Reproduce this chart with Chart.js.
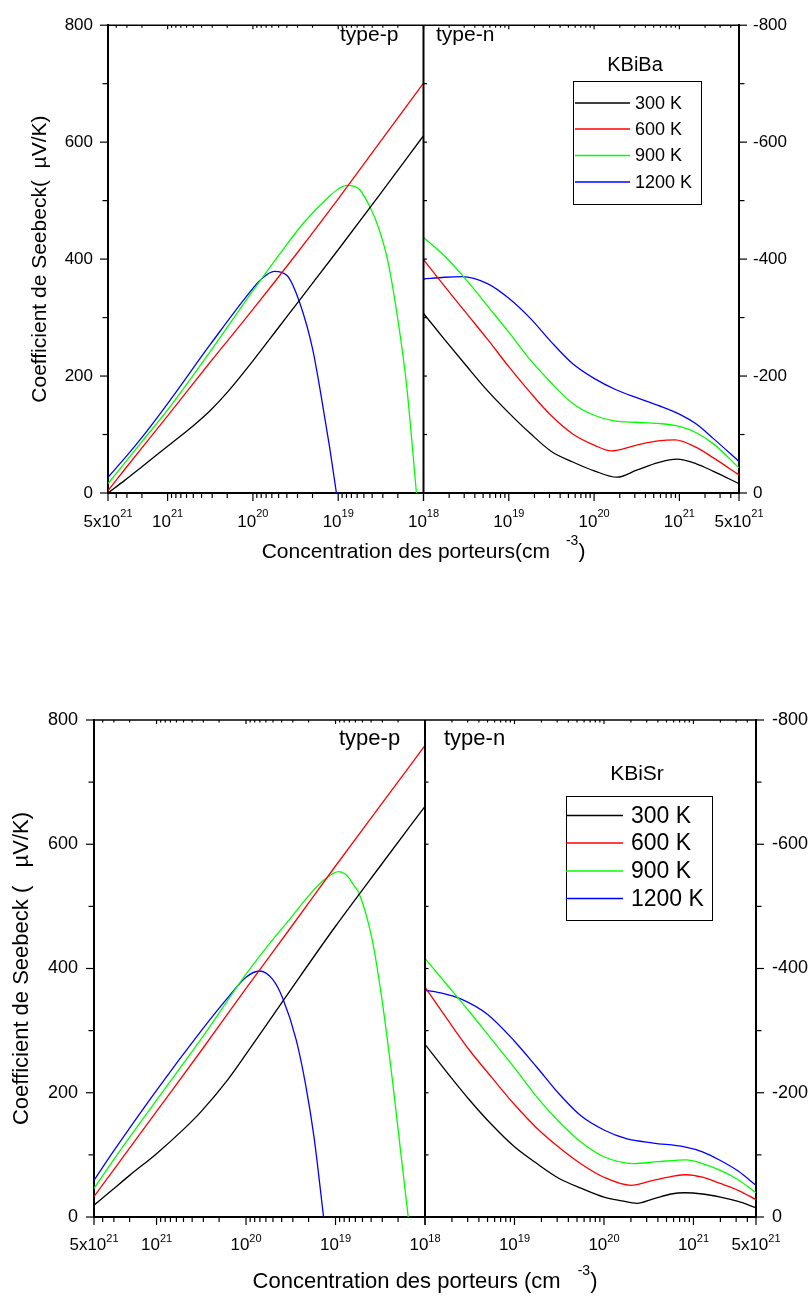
<!DOCTYPE html>
<html>
<head>
<meta charset="utf-8">
<script src="https://cdn.jsdelivr.net/npm/chart.js@4.4.1/dist/chart.umd.min.js"></script>
<style>
html,body{margin:0;padding:0;background:#fff;}
#wrap{position:relative;width:811px;height:1298px;overflow:hidden;}
canvas{position:absolute;left:0;}
</style>
</head>
<body>
<div id="wrap">
<canvas id="c1" width="811" height="649" style="top:0;width:811px;height:649px"></canvas>
<canvas id="c2" width="811" height="649" style="top:649px;width:811px;height:649px"></canvas>
</div>
<script>
// ---------- categories / ticks ----------
const seriesLabels = ['300 K', '600 K', '900 K', '1200 K'];
const seriesColors = ['#000000', '#ff0000', '#00ff00', '#0000ff'];
const xTickValues = [1e18, 1e19, 1e20, 1e21, 5e21];
const xTickBase = ['10', '10', '10', '10', '5x10'];
const xTickExp = ['18', '19', '20', '21', '21'];
const yTickValuesP = [0, 200, 400, 600, 800];
const yTickLabelsP = ['0', '200', '400', '600', '800'];
const yTickValuesN = [0, -200, -400, -600, -800];
const yTickLabelsN = ['0', '-200', '-400', '-600', '-800'];

// ---------- KBiBa : [concentration (cm^-3), Seebeck (µV/K)] ----------
const baP300 = [[5e21,0],[3.16e21,22],[2e21,45],[1e21,80],[5e20,115],[3.16e20,141],[2e20,172],[1e20,226],[5e19,283],[3.16e19,321],[1e19,416],[3.16e18,513],[1e18,611]];
const baP600 = [[5e21,4],[3.16e21,41],[1e21,132],[3.16e20,224],[1e20,314],[3.16e19,407],[1e19,503],[3.16e18,602],[1e18,701]];
const baP900 = [[5e21,16],[3.16e21,52],[2e21,88],[1e21,142],[3.16e20,242],[1e20,346],[7.94e19,366],[5.01e19,406],[2.51e19,463],[1.26e19,508],[1e19,520],[7.94e18,526],[6.61e18,525],[5.62e18,519],[4.27e18,490],[3.39e18,455],[2.63e18,398],[2e18,297],[1.58e18,185],[1.21e18,0]];
const baP1200 = [[5e21,27],[3.16e21,60],[2e21,95],[1e21,153],[3.16e20,254],[1e20,350],[7.94e19,366],[5.62e19,379],[3.98e19,372],[2.82e19,325],[2e19,247],[1.58e19,165],[1.26e19,78],[1.05e19,0]];

const baN300 = [[1e18,-307],[1.78e18,-262],[3.16e18,-218],[5.62e18,-175],[1e19,-137],[1.78e19,-102],[3.16e19,-71],[5.62e19,-53],[1e20,-38],[1.86e20,-27],[3.16e20,-39],[5.62e20,-52],[9.33e20,-58],[1.58e21,-50],[2.51e21,-37],[5e21,-16]];
const baN600 = [[1e18,-399],[1.78e18,-353],[3.16e18,-308],[5.62e18,-263],[1e19,-216],[1.78e19,-172],[3.16e19,-132],[5.62e19,-101],[1e20,-82],[1.58e20,-72],[3.16e20,-82],[5.62e20,-89],[8.91e20,-91],[1.58e21,-78],[2.51e21,-60],[5e21,-31]];
const baN900 = [[1e18,-437],[1.78e18,-405],[3.16e18,-365],[5.62e18,-320],[1e19,-275],[1.78e19,-228],[3.16e19,-188],[5.62e19,-153],[1e20,-133],[1.78e20,-123],[3.16e20,-121],[5.62e20,-119],[1e21,-114],[1.58e21,-103],[2.51e21,-84],[5e21,-43]];
const baN1200 = [[1e18,-366],[1.78e18,-369],[2.82e18,-370],[5.62e18,-358],[1e19,-333],[1.78e19,-299],[3.16e19,-258],[5.62e19,-221],[1e20,-196],[1.78e20,-177],[3.16e20,-163],[5.62e20,-150],[1e21,-135],[1.58e21,-118],[2.51e21,-93],[5e21,-54]];

// ---------- KBiSr ----------
const srP300 = [[5e21,19],[3.16e21,43],[2e21,67],[1e21,102],[5e20,141],[3.16e20,170],[1.58e20,222],[1e20,262],[3.16e19,366],[1e19,468],[3.16e18,565],[1e18,661]];
const srP600 = [[5e21,33],[3.16e21,72],[1e21,170],[3.16e20,268],[1e20,368],[3.16e19,466],[1e19,565],[3.16e18,662],[1e18,759]];
const srP900 = [[5e21,46],[3.16e21,88],[1e21,188],[3.16e20,287],[1e20,391],[5.01e19,447],[3.31e19,478],[2e19,517],[1.41e19,540],[1.12e19,551],[9.33e18,556],[7.94e18,553],[7.08e18,546],[6.31e18,535],[5.46e18,521],[3.89e18,446],[3.02e18,349],[2.29e18,215],[1.86e18,102],[1.54e18,0]];
const srP1200 = [[5e21,59],[3.16e21,102],[1e21,204],[3.16e20,300],[1.58e20,354],[1e20,386],[7.08e19,396],[5.01e19,382],[3.89e19,352],[2.75e19,285],[2.14e19,210],[1.74e19,129],[1.36e19,0]];

const srN300 = [[1e18,-278],[1.78e18,-232],[3.16e18,-188],[5.62e18,-148],[1e19,-113],[1.78e19,-86],[3.16e19,-62],[5.62e19,-46],[1e20,-32],[1.58e20,-26],[2.34e20,-22],[3.55e20,-29],[5.62e20,-37],[7.94e20,-39],[1.26e21,-37],[2e21,-32],[3.16e21,-25],[5e21,-15]];
const srN600 = [[1e18,-370],[1.78e18,-318],[3.16e18,-268],[5.62e18,-224],[1e19,-181],[1.78e19,-143],[3.16e19,-112],[5.62e19,-85],[1e20,-64],[2e20,-51],[3.55e20,-59],[5.62e20,-65],[8.32e20,-68],[1.26e21,-64],[2e21,-54],[3.16e21,-43],[5e21,-28]];
const srN900 = [[1e18,-416],[1.78e18,-373],[3.16e18,-330],[5.62e18,-285],[1e19,-240],[1.78e19,-193],[3.16e19,-153],[5.62e19,-120],[1e20,-97],[2.14e20,-86],[3.98e20,-89],[8.32e20,-92],[1.26e21,-86],[2e21,-75],[3.16e21,-60],[5e21,-39]];
const srN1200 = [[1e18,-365],[1.58e18,-360],[2.51e18,-351],[5.01e18,-326],[1e19,-283],[1.78e19,-241],[3.16e19,-198],[5.62e19,-162],[1e20,-140],[1.78e20,-126],[3.55e20,-119],[7.94e20,-113],[1.26e21,-105],[2e21,-91],[3.16e21,-74],[5e21,-51]];

const FAMILY = '"Liberation Sans", Arial, Helvetica, sans-serif';
const X_MIN = 1e18, X_MAX = 5e21;

function ds(pairs, i, panel) {
  return {
    label: seriesLabels[i],
    data: pairs.map(p => ({x: p[0], y: p[1]})),
    borderColor: seriesColors[i],
    backgroundColor: seriesColors[i],
    borderWidth: 1.3,
    pointRadius: 0,
    fill: false,
    cubicInterpolationMode: 'monotone',
    xAxisID: 'x' + panel,
    yAxisID: 'y' + panel
  };
}

function minorValues() {
  const out = [];
  for (let d = 18; d <= 21; d++) {
    for (let k = 1; k <= 9; k++) {
      const v = k * Math.pow(10, d);
      if (v >= X_MIN * 0.999 && v <= X_MAX * 1.001) out.push({v, major: k === 1 || (d === 21 && k === 5)});
    }
  }
  return out;
}

const decor = {
  id: 'decor',
  afterDraw(chart, args, o) {
    const ctx = chart.ctx, ca = chart.chartArea;
    const sx = chart.scales;
    const line = (x1, y1, x2, y2) => { ctx.beginPath(); ctx.moveTo(x1, y1); ctx.lineTo(x2, y2); ctx.stroke(); };
    ctx.save();
    ctx.strokeStyle = '#000';
    ctx.fillStyle = '#000';
    // frame top and divider
    ctx.lineWidth = 1.5;
    line(ca.left, ca.top, ca.right, ca.top);
    const xd = sx.xP.getPixelForValue(X_MIN);
    ctx.lineWidth = 2;
    line(xd, ca.top, xd, ca.bottom);
    // x ticks
    ctx.lineWidth = 1.2;
    const mv = minorValues();
    [sx.xP, sx.xN].forEach(s => {
      mv.forEach(t => {
        const px = s.getPixelForValue(t.v);
        line(px, ca.bottom, px, ca.bottom + (t.major ? 8 : 5));
        line(px, ca.top, px, ca.top + (t.major ? 4 : 2.5));
      });
    });
    // y ticks
    for (let v = 0; v <= 800; v += 100) {
      const major = v % 200 === 0;
      const py = sx.yP.getPixelForValue(v);
      line(ca.left - (major ? 8 : 5.5), py, ca.left, py);
      const pn = sx.yN.getPixelForValue(-v);
      line(ca.right, pn, ca.right + (major ? 8 : 5.5), pn);
      if (v > 0 && v < 800) line(xd, py, xd + 3.5, py);
    }
    // x tick labels with superscript exponents
    ctx.textBaseline = 'alphabetic';
    ctx.textAlign = 'left';
    const baseF = o.xlFont + 'px ' + FAMILY, expF = o.xlSupFont + 'px ' + FAMILY;
    [['xP', 1], ['xN', 0]].forEach(([id, start]) => {
      const s = sx[id];
      for (let i = start; i < xTickValues.length; i++) {
        const px = s.getPixelForValue(xTickValues[i]);
        ctx.font = baseF; const wb = ctx.measureText(xTickBase[i]).width;
        ctx.font = expF; const we = ctx.measureText(xTickExp[i]).width;
        const x0 = px - (wb + we) / 2;
        ctx.font = baseF; ctx.fillText(xTickBase[i], x0, ca.bottom + o.xlBase);
        ctx.font = expF; ctx.fillText(xTickExp[i], x0 + wb, ca.bottom + o.xlSupBase);
      }
    });
    // type labels
    ctx.font = o.typeFont + 'px ' + FAMILY;
    ctx.fillText('type-p', o.typeP[0], o.typeP[1]);
    ctx.fillText('type-n', o.typeN[0], o.typeN[1]);
    // legend
    ctx.textAlign = 'center';
    ctx.font = o.legTitleFont + 'px ' + FAMILY;
    ctx.fillText(o.legTitle, o.legTitlePos[0], o.legTitlePos[1]);
    ctx.lineWidth = 1;
    ctx.strokeRect(o.legBox[0] + 0.5, o.legBox[1] + 0.5, o.legBox[2] - o.legBox[0], o.legBox[3] - o.legBox[1]);
    ctx.textAlign = 'left';
    ctx.textBaseline = 'middle';
    ctx.font = o.legFont + 'px ' + FAMILY;
    const nds = chart.data.datasets.filter(d => d.xAxisID === 'xN');
    nds.forEach((d, i) => {
      const y = o.legRows[i];
      ctx.strokeStyle = d.borderColor;
      ctx.lineWidth = 1.5;
      line(o.legLine[0], y, o.legLine[1], y);
      ctx.fillStyle = '#000';
      ctx.fillText(d.label, o.legTextX, y + 1);
    });
    // x axis title with superscript
    ctx.textBaseline = 'alphabetic';
    const mainF = o.xtFont + 'px ' + FAMILY, supF = o.xtSupFont + 'px ' + FAMILY;
    ctx.font = mainF;
    const w1 = ctx.measureText(o.xtMain).width;
    const w3 = ctx.measureText(')').width;
    ctx.font = supF;
    const w2 = ctx.measureText(o.xtSup).width;
    const total = w1 + o.xtGap + w2 + w3;
    const x0 = (ca.left + ca.right) / 2 - total / 2;
    ctx.font = mainF;
    ctx.fillText(o.xtMain, x0, o.xtBase);
    ctx.font = supF;
    ctx.fillText(o.xtSup, x0 + w1 + o.xtGap, o.xtSupBase);
    ctx.font = mainF;
    ctx.fillText(')', x0 + w1 + o.xtGap + w2, o.xtBase);
    ctx.restore();
  }
};

function makeChart(id, sets, cfg) {
  const tickFont = {family: FAMILY, size: cfg.tickFont};
  const xScale = (reverse) => ({
    type: 'logarithmic', position: 'bottom', stack: 'bottomx', stackWeight: 1,
    reverse: reverse, min: X_MIN, max: X_MAX,
    afterFit: s => { s.height = cfg.bottom; },
    afterBuildTicks: s => { s.ticks = xTickValues.map(v => ({value: v, major: true})); },
    ticks: {display: false, autoSkip: false, minRotation: 0, maxRotation: 0},
    grid: {display: true, drawOnChartArea: false, drawTicks: false},
    border: {display: true, width: 2, color: '#000'}
  });
  return new Chart(document.getElementById(id), {
    type: 'line',
    data: {datasets: sets},
    options: {
      responsive: false, animation: false, events: [],
      layout: {padding: {top: cfg.top, left: 0, right: 0, bottom: 0}},
      plugins: {legend: {display: false}, tooltip: {enabled: false}, title: {display: false}, decor: cfg.decor},
      scales: {
        xP: xScale(true),
        xN: xScale(false),
        yP: {
          type: 'linear', position: 'left', min: 0, max: 800,
          afterFit: s => { s.width = cfg.left; },
          afterBuildTicks: s => { s.ticks = yTickValuesP.map(v => ({value: v})); },
          ticks: {color: '#000', font: tickFont, padding: cfg.yPadL, callback: (v, i) => yTickLabelsP[i]},
          title: {display: true, text: cfg.yTitle, color: '#000', font: {family: FAMILY, size: cfg.yTitleFont}, padding: {top: cfg.yTitlePad, bottom: 0}},
          grid: {display: true, drawOnChartArea: false, drawTicks: false},
          border: {display: true, width: 2, color: '#000'}
        },
        yN: {
          type: 'linear', position: 'right', min: -800, max: 0, reverse: true,
          afterFit: s => { s.width = cfg.right; },
          afterBuildTicks: s => { s.ticks = yTickValuesN.map(v => ({value: v})); },
          ticks: {color: '#000', font: tickFont, padding: cfg.yPadR, callback: (v, i) => yTickLabelsN[i]},
          grid: {display: true, drawOnChartArea: false, drawTicks: false},
          border: {display: true, width: 2, color: '#000'}
        }
      }
    },
    plugins: [decor]
  });
}

makeChart('c1', [
  ds(baP300, 0, 'P'), ds(baP600, 1, 'P'), ds(baP900, 2, 'P'), ds(baP1200, 3, 'P'),
  ds(baN300, 0, 'N'), ds(baN600, 1, 'N'), ds(baN900, 2, 'N'), ds(baN1200, 3, 'N')
], {
  top: 18, left: 108, right: 72, bottom: 156,
  tickFont: 17, yPadL: 15, yPadR: 14,
  yTitle: 'Coefficient de Seebeck(  \u00b5V/K)', yTitleFont: 21, yTitlePad: 28,
  decor: {
    xlFont: 17, xlSupFont: 11, xlBase: 34, xlSupBase: 24,
    typeFont: 21, typeP: [340, 41], typeN: [436, 41],
    legTitle: 'KBiBa', legTitleFont: 20, legTitlePos: [635, 71],
    legBox: [573, 81, 701, 204], legFont: 18, legLine: [575, 630], legTextX: 635,
    legRows: [103, 129, 155.5, 182],
    xtMain: 'Concentration des porteurs(cm', xtSup: '-3', xtFont: 21, xtSupFont: 14,
    xtGap: 16, xtBase: 558, xtSupBase: 545
  }
});

makeChart('c2', [
  ds(srP300, 0, 'P'), ds(srP600, 1, 'P'), ds(srP900, 2, 'P'), ds(srP1200, 3, 'P'),
  ds(srN300, 0, 'N'), ds(srN600, 1, 'N'), ds(srN900, 2, 'N'), ds(srN1200, 3, 'N')
], {
  top: 71, left: 94, right: 55, bottom: 81,
  tickFont: 18, yPadL: 16, yPadR: 16,
  yTitle: 'Coefficient de Seebeck (   \u00b5V/K)', yTitleFont: 22, yTitlePad: 9,
  decor: {
    xlFont: 17, xlSupFont: 11, xlBase: 33, xlSupBase: 25,
    typeFont: 22, typeP: [339, 96], typeN: [444, 96],
    legTitle: 'KBiSr', legTitleFont: 21, legTitlePos: [637, 131],
    legBox: [566, 147, 712, 271], legFont: 23, legLine: [566, 623], legTextX: 631,
    legRows: [166.5, 194, 222, 249.5],
    xtMain: 'Concentration des porteurs (cm', xtSup: '-3', xtFont: 22, xtSupFont: 14,
    xtGap: 17, xtBase: 639, xtSupBase: 626
  }
});
</script>
</body>
</html>
